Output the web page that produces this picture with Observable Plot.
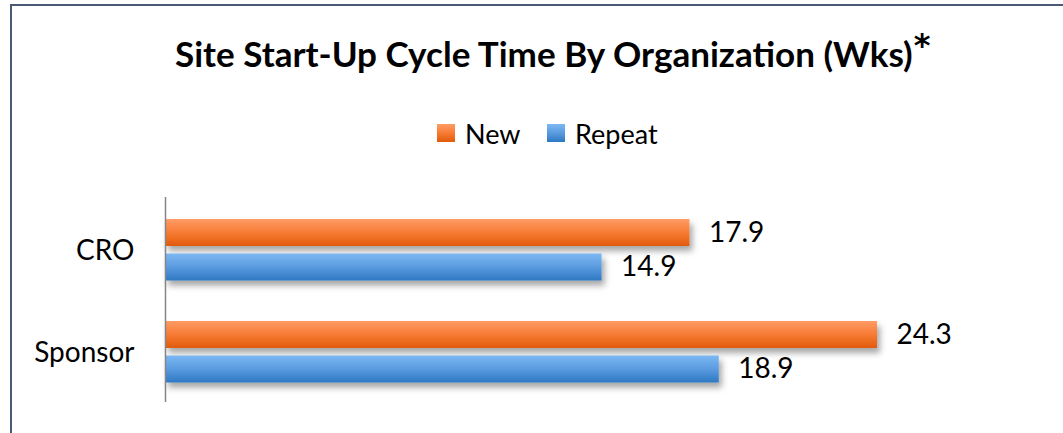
<!DOCTYPE html>
<html>
<head>
<meta charset="utf-8">
<script src="https://cdn.jsdelivr.net/npm/d3@7"></script>
<script src="https://cdn.jsdelivr.net/npm/@observablehq/plot@0.6"></script>
<style>
  html, body { margin: 0; padding: 0; background: #fff; }
  #wrap { position: relative; width: 1063px; height: 433px; overflow: hidden; font-family: Lato, "Open Sans", sans-serif; color: #000; }
  #frame { position: absolute; left: 10px; top: 4px; width: 1200px; height: 600px; border-left: 2px solid #4a5a75; border-top: 2px solid #4a5a75; }
  #title { position: absolute; left: 0; top: 0; white-space: nowrap; font-weight: 700; font-size: 30px; line-height: 36px; }
  #star { position: absolute; font-family: "DejaVu Sans", sans-serif; font-weight: 700; font-size: 32px; line-height: 32px; }
  .leg { position: absolute; display: flex; align-items: center; font-size: 27px; height: 30px; white-space: nowrap; }
  .sw { width: 18px; height: 18px; margin-right: 10px; }
  #chart { position: absolute; left: 0; top: 160px; }
</style>
</head>
<body>
<div id="wrap">
  <div id="frame"></div>
  <div id="title"></div>
  <div id="star"></div>
  <div id="legend"></div>
  <div id="chart"></div>
</div>
<script>
const titleText = "Site Start-Up Cycle Time By Organization (Wks)";
const titleMark = "*";
const organizations = ["CRO", "Sponsor"];
const seriesNames = ["New", "Repeat"];
const newValues = [17.9, 24.3];
const repeatValues = [14.9, 18.9];
const xDomain = [0, 30];

const seriesColors = {
  New: { top: "#ff9c66", mid: "#f77b34", bottom: "#e15a0a" },
  Repeat: { top: "#7cb8f2", mid: "#5a9be0", bottom: "#2e78c2" }
};

const rows = organizations.flatMap((org, i) => [
  { org, series: "New", value: newValues[i] },
  { org, series: "Repeat", value: repeatValues[i] }
]);

// Title
const title = document.getElementById("title");
const tspan = document.createElement("span");
tspan.textContent = titleText;
title.appendChild(tspan);
const targetW = 738;
let fs = 30;
tspan.style.fontSize = fs + "px";
const w0 = tspan.getBoundingClientRect().width;
fs = fs * targetW / w0;
tspan.style.fontSize = fs.toFixed(2) + "px";
title.style.left = "175px";
title.style.top = (64 - 29) + "px";
const star = document.getElementById("star");
star.textContent = titleMark;
star.style.left = (175 + tspan.getBoundingClientRect().width + 1) + "px";
star.style.top = "29px";

// Legend
const legend = document.getElementById("legend");
const legPos = { New: 437, Repeat: 547 };
seriesNames.forEach(s => {
  const item = document.createElement("div");
  item.className = "leg";
  item.style.left = legPos[s] + "px";
  item.style.top = (133 - 15) + "px";
  const sw = document.createElement("div");
  sw.className = "sw";
  const c = seriesColors[s];
  sw.style.background = `linear-gradient(to bottom, ${c.top}, ${c.mid} 50%, ${c.bottom})`;
  const lab = document.createElement("span");
  lab.textContent = s;
  item.appendChild(sw);
  item.appendChild(lab);
  legend.appendChild(item);
});

const insets = {
  New: { insetTop: 21, insetBottom: 54, dy: -16.5 },
  Repeat: { insetTop: 55.5, insetBottom: 19.5, dy: 18 }
};

const marks = [];
seriesNames.forEach(s => {
  const data = rows.filter(d => d.series === s);
  marks.push(Plot.barX(data, {
    x: "value", y: "org",
    fill: `url(#grad${s})`,
    insetTop: insets[s].insetTop, insetBottom: insets[s].insetBottom
  }));
});
seriesNames.forEach(s => {
  const data = rows.filter(d => d.series === s);
  marks.push(Plot.text(data, {
    x: "value", y: "org", text: d => d.value.toFixed(1),
    dx: 19, dy: insets[s].dy, textAnchor: "start",
    fontSize: 28, fill: "#000"
  }));
});
marks.push(Plot.ruleX([0], { stroke: "#868686", strokeWidth: 1.5 }));
marks.push(Plot.axisY({ tickSize: 0, tickPadding: 31, fontSize: 28, dy: 2 }));

const plot = Plot.plot({
  width: 1063,
  height: 273,
  marginTop: 37,
  marginBottom: 31,
  marginLeft: 165,
  marginRight: 19,
  style: { fontFamily: "Lato, 'Open Sans', sans-serif", color: "#000", background: "transparent", overflow: "visible" },
  x: { domain: xDomain, axis: null },
  y: { domain: organizations, padding: 0, label: null },
  marks
});

const defs = `<defs>
  <linearGradient id="gradNew" x1="0" y1="0" x2="0" y2="1">
    <stop offset="0" stop-color="${seriesColors.New.top}"/>
    <stop offset="0.5" stop-color="${seriesColors.New.mid}"/>
    <stop offset="1" stop-color="${seriesColors.New.bottom}"/>
  </linearGradient>
  <linearGradient id="gradRepeat" x1="0" y1="0" x2="0" y2="1">
    <stop offset="0" stop-color="${seriesColors.Repeat.top}"/>
    <stop offset="0.5" stop-color="${seriesColors.Repeat.mid}"/>
    <stop offset="1" stop-color="${seriesColors.Repeat.bottom}"/>
  </linearGradient>
  <filter id="shadow" x="-5%" y="-30%" width="115%" height="200%">
    <feDropShadow dx="3" dy="5" stdDeviation="3" flood-color="#000" flood-opacity="0.35"/>
  </filter>
</defs>`;
plot.insertAdjacentHTML("afterbegin", defs);
plot.querySelectorAll('g[aria-label="bar"]').forEach(g => g.setAttribute("filter", "url(#shadow)"));
document.getElementById("chart").appendChild(plot);
</script>
</body>
</html>
